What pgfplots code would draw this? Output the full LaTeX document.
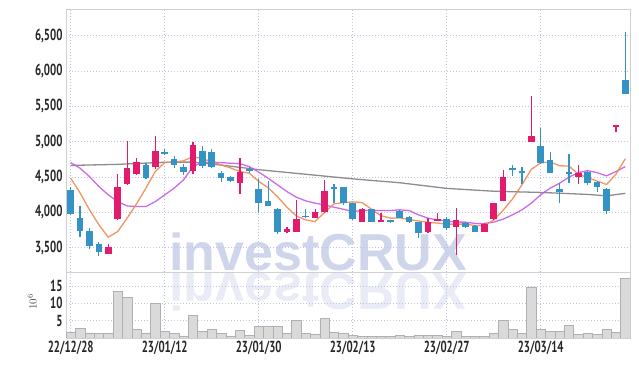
\documentclass[border=0pt]{standalone}
\usepackage{pgfplots}
\pgfplotsset{compat=1.18}
\usepackage{pgfplotstable}
\usepackage{fontspec}
\setmainfont{PT Sans}
\newfontfamily\tickfont{PT Sans Bold}[FakeStretch=0.68]
\newfontfamily\wmfont{Liberation Sans}
\definecolor{upred}{HTML}{E31B6D}
\definecolor{downblue}{HTML}{3592C4}
\definecolor{maf}{HTML}{F08A50}
\definecolor{mam}{HTML}{C85AE6}
\definecolor{mas}{HTML}{808080}
\definecolor{gridc}{HTML}{BEC3E0}
\definecolor{framec}{HTML}{D0D0D0}
\definecolor{wm}{HTML}{CFD5EA}
\definecolor{volfill}{HTML}{DADADA}
\definecolor{voledge}{HTML}{B0B0B0}

\pgfplotstableread{
x o h l c
4 3419 3560 3419 3508
5 3914 4537 3900 4353
6 4396 5014 4386 4627
7 4537 4764 4528 4707
9 4637 5080 4613 4868
13 4588 4990 4540 4957
18 4422 4777 4265 4578
23 3720 3790 3710 3765
24 3730 4180 3720 3910
26 3928 4050 3925 4013
27 4000 4460 3998 4305
31 3871 4060 3860 4051
33 3871 3994 3865 3895
38 3720 3923 3710 3863
39 3880 3994 3875 3910
41 3792 4069 3400 3895
44 3730 3850 3725 3835
45 3905 4140 3900 4131
46 4168 4601 4160 4507
49 4993 5646 4993 5081
54 4498 4672 4400 4563
58 5213 5237 5133 5235
}\up

\pgfplotstableread{
x o h l c
0 4316 4353 3957 3985
1 3928 4089 3655 3740
2 3735 3782 3480 3527
3 3551 3584 3386 3442
8 4670 4693 4471 4490
10 4858 4896 4810 4820
11 4754 4801 4635 4668
12 4649 4692 4531 4573
14 4872 4943 4635 4659
15 4858 4896 4635 4645
16 4554 4588 4431 4483
17 4502 4510 4436 4445
19 4610 4640 4560 4585
20 4333 4480 3995 4140
21 4164 4450 4090 4097
22 4051 4060 3700 3720
25 3950 4050 3915 3935
28 4366 4404 4135 4329
29 4366 4366 4107 4131
30 4131 4140 3890 3905
32 4051 4055 3860 3871
34 3895 3900 3855 3863
35 4027 4035 3920 3928
36 3942 3950 3855 3863
37 3863 3870 3643 3707
40 3910 3930 3750 3778
42 3849 3860 3780 3792
43 3815 3820 3720 3730
47 4625 4677 4516 4600
48 4592 4640 4404 4555
50 4940 5190 4690 4704
51 4743 4851 4560 4563
52 4333 4413 4131 4295
53 4578 4823 4413 4545
55 4578 4590 4390 4413
56 4432 4440 4295 4366
57 4333 4340 3980 4027
59 5872 6546 5674 5674
}\down

\pgfplotstableread{
x v
0 1.7
1 2.7
2 1.5
3 1.3
4 1.3
5 13.4
6 11.7
7 2.4
8 1.5
9 10.0
10 2.0
11 1.3
12 0.6
13 6.5
14 1.8
15 2.6
16 1.3
17 0.6
18 2.1
19 0.7
20 3.3
21 3.3
22 3.3
23 1.3
24 5.0
25 1.3
26 1.0
27 5.6
28 1.6
29 1.3
30 0.7
31 0.4
32 0.4
33 0.4
34 0.4
35 0.7
36 0.4
37 0.7
38 0.7
39 0.7
40 0.4
41 1.8
42 0.4
43 0.4
44 0.4
45 1.5
46 5.1
47 2.4
48 1.4
49 14.7
50 2.4
51 1.8
52 1.8
53 3.6
54 1.1
55 1.3
56 1.1
57 2.4
58 1.6
59 17.2
}\vol

\begin{document}
\begin{tikzpicture}
\path (0pt,0pt) rectangle (639pt,366pt);
% watermark and its reflection
\node[anchor=base, inner sep=0pt, font=\wmfont\bfseries\fontsize{52}{52}\selectfont, text=wm] at (318pt,95pt) {investCRUX};
\node[anchor=base, inner sep=0pt, yscale=-1, opacity=0.45, font=\wmfont\bfseries\fontsize{52}{52}\selectfont, text=wm] at (318pt,92pt) {investCRUX};

\begin{axis}[
  at={(66pt,94pt)}, anchor=south west, scale only axis,
  width=564pt, height=263pt,
  xmin=-0.5, xmax=59.5, ymin=3158, ymax=6877,
  ytick={3500,4000,4500,5000,5500,6000,6500},
  xtick={0,10,20,30,40,50}, xticklabels={},
  grid=major, major grid style={gridc, line width=0.7pt, dash pattern=on 0.8pt off 2.2pt},
  axis line style={framec},
  tick style={draw=none},
  yticklabel style={font=\tickfont\fontsize{16}{16}\selectfont, text=black!85},
  /pgf/number format/1000 sep={,},
  /pgf/number format/assume math mode=true,
]
\addplot[mas, line width=1.3pt, opacity=0.9] coordinates {
(0,4665) (5,4680) (10,4710) (13,4712) (16,4670) (20,4605) (25,4540) (30,4475) (35,4420) (40,4340) (45,4300) (50,4283) (55,4255) (57,4235) (59,4270)};
\addplot[mam, line width=1.3pt, opacity=0.9] coordinates {
(0,4705) (1,4625) (2,4507) (3,4366) (4,4248) (5,4154) (6,4093) (7,4083) (8,4083) (9,4154) (10,4248) (11,4343) (12,4460) (13,4648) (14,4710) (15,4710) (16,4705) (17,4696) (18,4690) (19,4648) (20,4570) (21,4484) (22,4390) (23,4295) (24,4216) (25,4164) (26,4131) (27,4107) (28,4074) (29,4046) (30,4013) (31,4027) (32,4027) (33,4027) (34,4027) (35,4037) (36,4027) (37,3966) (38,3919) (39,3895) (40,3880) (41,3863) (42,3863) (43,3845) (44,3845) (45,3863) (46,3905) (47,3966) (48,4037) (49,4131) (50,4250) (51,4343) (52,4413) (53,4498) (54,4563) (55,4592) (56,4563) (57,4517) (58,4578) (59,4648)};
\addplot[maf, line width=1.3pt, opacity=0.9] coordinates {
(0,4484) (1,4276) (2,4037) (3,3825) (4,3650) (5,3730) (6,3919) (7,4121) (8,4343) (9,4580) (10,4705) (11,4715) (12,4730) (13,4790) (14,4760) (15,4719) (16,4672) (17,4630) (18,4578) (19,4555) (20,4440) (21,4350) (22,4224) (23,4075) (24,3950) (25,3895) (26,3871) (27,4000) (28,4120) (29,4140) (30,4150) (31,4140) (32,4045) (33,3955) (34,3919) (35,3923) (36,3900) (37,3880) (38,3860) (39,3850) (40,3835) (41,3835) (42,3835) (43,3815) (44,3815) (45,3890) (46,4030) (47,4190) (48,4390) (49,4610) (50,4700) (51,4715) (52,4660) (53,4655) (54,4545) (55,4490) (56,4445) (57,4395) (58,4540) (59,4760)};
% wicks
\addplot[draw=none, forget plot, error bars/.cd, y dir=plus, y explicit, error mark=none,
  error bar style={draw=upred, line width=1.2pt}]
  table[x=x, y=l, y error plus expr=\thisrow{h}-\thisrow{l}] {\up};
\addplot[draw=none, forget plot, error bars/.cd, y dir=plus, y explicit, error mark=none,
  error bar style={draw=downblue, line width=1.2pt}]
  table[x=x, y=l, y error plus expr=\thisrow{h}-\thisrow{l}] {\down};
% bodies
\addplot[draw=none, forget plot, error bars/.cd, y dir=plus, y explicit, error mark=none,
  error bar style={draw=upred, line width=6.6pt}]
  table[x=x, y=o, y error plus expr=\thisrow{c}-\thisrow{o}] {\up};
\addplot[draw=none, forget plot, error bars/.cd, y dir=plus, y explicit, error mark=none,
  error bar style={draw=downblue, line width=6.6pt}]
  table[x=x, y=c, y error plus expr=\thisrow{o}-\thisrow{c}] {\down};
\end{axis}

\begin{axis}[
  at={(66pt,28pt)}, anchor=south west, scale only axis,
  width=564pt, height=66pt,
  xmin=-0.5, xmax=59.5, ymin=0, ymax=19,
  ytick={5,10,15},
  xtick={0,10,20,30,40,50},
  xticklabels={22/12/28,23/01/12,23/01/30,23/02/13,23/02/27,23/03/14},
  grid=major, major grid style={gridc, line width=0.7pt, dash pattern=on 0.8pt off 2.2pt},
  axis line style={framec},
  tick style={draw=none},
  ticklabel style={font=\tickfont\fontsize{16}{16}\selectfont, text=black!85},
  ylabel={$10^{6}$},
  y label style={at={(axis description cs:-0.06,0.55)}, anchor=center, font=\fontsize{11}{11}\selectfont, text=black!70},
  /pgf/number format/assume math mode=true,
]
\addplot[ybar, bar width=1, fill=volfill, draw=voledge, line width=0.5pt] table[x=x, y=v] {\vol};
\end{axis}
\end{tikzpicture}
\end{document}
